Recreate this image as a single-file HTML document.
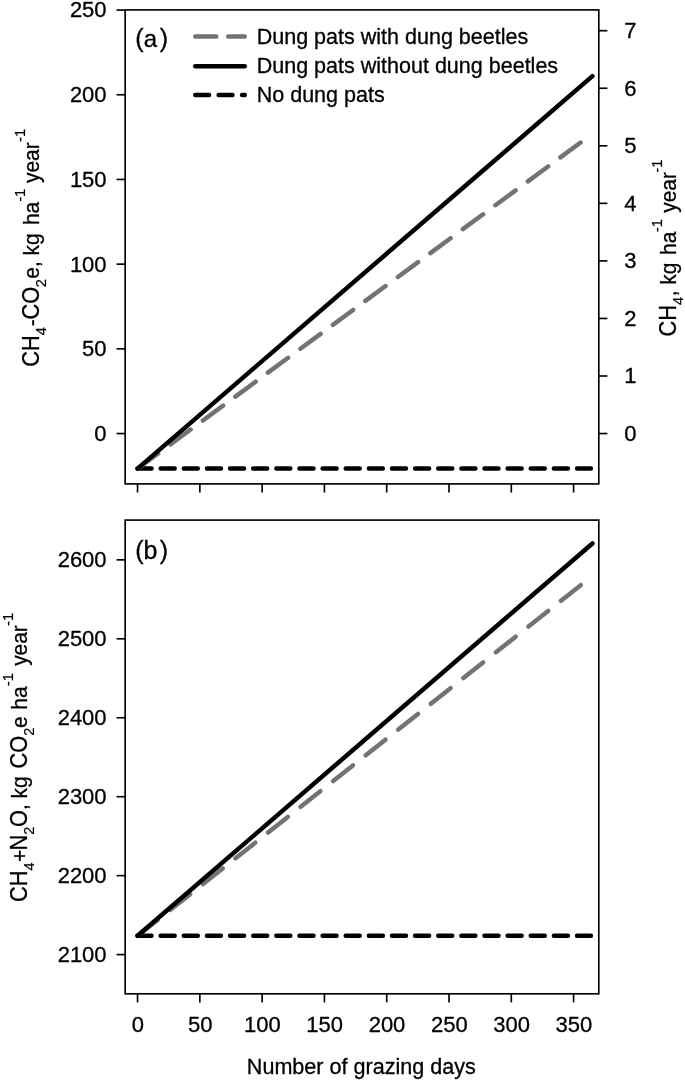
<!DOCTYPE html>
<html lang="en"><head><meta charset="utf-8"><title>Figure</title>
<style>html,body{margin:0;padding:0;background:#fff}svg{display:block}</style>
</head><body>
<svg width="685" height="1082" viewBox="0 0 685 1082" font-family='"Liberation Sans", Arial, Helvetica, sans-serif' fill="#000">
<style>text{stroke:#000;stroke-width:0.3px;stroke-linejoin:round}.s{stroke-width:0.18px}</style>
<rect width="685" height="1082" fill="#fff"/>
<g stroke="#000" stroke-width="1.65" fill="none" stroke-linecap="square">
<rect x="125.15" y="9.9" width="473.65" height="474.00"/>
<rect x="125.15" y="520.1" width="473.65" height="473.70"/>
</g>
<g stroke="#000" stroke-width="1.65" fill="none">
<line x1="116.55" y1="433.55" x2="125.15" y2="433.55" />
<line x1="116.55" y1="348.85" x2="125.15" y2="348.85" />
<line x1="116.55" y1="264.15" x2="125.15" y2="264.15" />
<line x1="116.55" y1="179.45" x2="125.15" y2="179.45" />
<line x1="116.55" y1="94.75" x2="125.15" y2="94.75" />
<line x1="116.55" y1="10.05" x2="125.15" y2="10.05" />
<line x1="598.80" y1="433.55" x2="607.40" y2="433.55" />
<line x1="598.80" y1="376.00" x2="607.40" y2="376.00" />
<line x1="598.80" y1="318.45" x2="607.40" y2="318.45" />
<line x1="598.80" y1="260.90" x2="607.40" y2="260.90" />
<line x1="598.80" y1="203.35" x2="607.40" y2="203.35" />
<line x1="598.80" y1="145.80" x2="607.40" y2="145.80" />
<line x1="598.80" y1="88.25" x2="607.40" y2="88.25" />
<line x1="598.80" y1="30.70" x2="607.40" y2="30.70" />
<line x1="116.55" y1="954.60" x2="125.15" y2="954.60" />
<line x1="116.55" y1="875.65" x2="125.15" y2="875.65" />
<line x1="116.55" y1="796.70" x2="125.15" y2="796.70" />
<line x1="116.55" y1="717.75" x2="125.15" y2="717.75" />
<line x1="116.55" y1="638.80" x2="125.15" y2="638.80" />
<line x1="116.55" y1="559.85" x2="125.15" y2="559.85" />
<line x1="137.55" y1="483.90" x2="137.55" y2="492.50" />
<line x1="137.55" y1="993.80" x2="137.55" y2="1002.40" />
<line x1="199.84" y1="483.90" x2="199.84" y2="492.50" />
<line x1="199.84" y1="993.80" x2="199.84" y2="1002.40" />
<line x1="262.13" y1="483.90" x2="262.13" y2="492.50" />
<line x1="262.13" y1="993.80" x2="262.13" y2="1002.40" />
<line x1="324.42" y1="483.90" x2="324.42" y2="492.50" />
<line x1="324.42" y1="993.80" x2="324.42" y2="1002.40" />
<line x1="386.71" y1="483.90" x2="386.71" y2="492.50" />
<line x1="386.71" y1="993.80" x2="386.71" y2="1002.40" />
<line x1="449.00" y1="483.90" x2="449.00" y2="492.50" />
<line x1="449.00" y1="993.80" x2="449.00" y2="1002.40" />
<line x1="511.29" y1="483.90" x2="511.29" y2="492.50" />
<line x1="511.29" y1="993.80" x2="511.29" y2="1002.40" />
<line x1="573.58" y1="483.90" x2="573.58" y2="492.50" />
<line x1="573.58" y1="993.80" x2="573.58" y2="1002.40" />
</g>
<g font-size="22">
<text x="106.60" y="440.90" font-size="22" text-anchor="end" >0</text>
<text x="106.60" y="356.20" font-size="22" text-anchor="end" >50</text>
<text x="106.60" y="271.50" font-size="22" text-anchor="end" >100</text>
<text x="106.60" y="186.80" font-size="22" text-anchor="end" >150</text>
<text x="106.60" y="102.10" font-size="22" text-anchor="end" >200</text>
<text x="106.60" y="17.40" font-size="22" text-anchor="end" >250</text>
<text x="630.40" y="440.90" font-size="22" text-anchor="middle" >0</text>
<text x="630.40" y="383.35" font-size="22" text-anchor="middle" >1</text>
<text x="630.40" y="325.80" font-size="22" text-anchor="middle" >2</text>
<text x="630.40" y="268.25" font-size="22" text-anchor="middle" >3</text>
<text x="630.40" y="210.70" font-size="22" text-anchor="middle" >4</text>
<text x="630.40" y="153.15" font-size="22" text-anchor="middle" >5</text>
<text x="630.40" y="95.60" font-size="22" text-anchor="middle" >6</text>
<text x="630.40" y="38.05" font-size="22" text-anchor="middle" >7</text>
<text x="106.60" y="961.95" font-size="22" text-anchor="end" >2100</text>
<text x="106.60" y="883.00" font-size="22" text-anchor="end" >2200</text>
<text x="106.60" y="804.05" font-size="22" text-anchor="end" >2300</text>
<text x="106.60" y="725.10" font-size="22" text-anchor="end" >2400</text>
<text x="106.60" y="646.15" font-size="22" text-anchor="end" >2500</text>
<text x="106.60" y="567.20" font-size="22" text-anchor="end" >2600</text>
<text x="137.85" y="1032.00" font-size="22" text-anchor="middle" >0</text>
<text x="200.14" y="1032.00" font-size="22" text-anchor="middle" >50</text>
<text x="262.43" y="1032.00" font-size="22" text-anchor="middle" >100</text>
<text x="324.72" y="1032.00" font-size="22" text-anchor="middle" >150</text>
<text x="387.01" y="1032.00" font-size="22" text-anchor="middle" >200</text>
<text x="449.30" y="1032.00" font-size="22" text-anchor="middle" >250</text>
<text x="511.59" y="1032.00" font-size="22" text-anchor="middle" >300</text>
<text x="573.88" y="1032.00" font-size="22" text-anchor="middle" >350</text>
</g>
<text transform="translate(38.80,366.80) rotate(-90) scale(0.95,1.0)" font-size="22" xml:space="preserve"><tspan font-size="22" dx="0" dy="0.00"><tspan font-size="22.99">CH</tspan></tspan><tspan class="s" font-size="14.8" dx="0" dy="7.40"><tspan font-size="15.47">4</tspan></tspan><tspan font-size="22" dx="0.8" dy="-7.40">-</tspan><tspan font-size="22" dx="0.0" dy="0.00"><tspan font-size="22.99">CO</tspan></tspan><tspan class="s" font-size="14.8" dx="-0.5" dy="7.40"><tspan font-size="15.47">2</tspan></tspan><tspan font-size="22" dx="0.3" dy="-7.40">e, kg</tspan><tspan font-size="22" dx="2.6" dy="0.00"> ha</tspan><tspan class="s" font-size="14.8" dx="0.3" dy="-14.30">-<tspan font-size="15.47">1</tspan></tspan><tspan font-size="22" dx="0.0" dy="14.30"> year</tspan><tspan class="s" font-size="14.8" dx="0.6" dy="-14.30">-<tspan font-size="15.47">1</tspan></tspan></text>
<text transform="translate(675.90,336.60) rotate(-90) scale(0.95,1.0)" font-size="22" xml:space="preserve"><tspan font-size="22" dx="0" dy="0.00"><tspan font-size="22.99">CH</tspan></tspan><tspan class="s" font-size="14.8" dx="0" dy="7.40"><tspan font-size="15.47">4</tspan></tspan><tspan font-size="22" dx="0.6" dy="-7.40">, kg</tspan><tspan font-size="22" dx="2.0" dy="0.00"> ha</tspan><tspan class="s" font-size="14.8" dx="-0.2" dy="-14.30">-<tspan font-size="15.47">1</tspan></tspan><tspan font-size="22" dx="0.6" dy="14.30"> year</tspan><tspan class="s" font-size="14.8" dx="-0.5" dy="-14.30">-<tspan font-size="15.47">1</tspan></tspan></text>
<text transform="translate(26.80,902.00) rotate(-90) scale(0.95,1.0)" font-size="22" xml:space="preserve"><tspan font-size="22" dx="0" dy="0.00"><tspan font-size="22.99">CH</tspan></tspan><tspan class="s" font-size="14.8" dx="0" dy="7.40"><tspan font-size="15.47">4</tspan></tspan><tspan font-size="22" dx="0.3" dy="-7.40">+</tspan><tspan font-size="22" dx="-0.8" dy="0.00"><tspan font-size="22.99">N</tspan></tspan><tspan class="s" font-size="14.8" dx="0" dy="7.40"><tspan font-size="15.47">2</tspan></tspan><tspan font-size="22" dx="-0.4" dy="-7.40"><tspan font-size="22.99">O</tspan>, kg</tspan><tspan font-size="22" dx="2.1" dy="0.00"> <tspan font-size="22.99">CO</tspan></tspan><tspan class="s" font-size="14.8" dx="0" dy="7.40"><tspan font-size="15.47">2</tspan></tspan><tspan font-size="22" dx="-0.4" dy="-7.40">e</tspan><tspan font-size="22" dx="1.0" dy="0.00"> ha</tspan><tspan class="s" font-size="14.8" dx="0.5" dy="-14.30">-<tspan font-size="15.47">1</tspan></tspan><tspan font-size="22" dx="1.5" dy="14.30"> year</tspan><tspan class="s" font-size="14.8" dx="-0.5" dy="-14.30">-<tspan font-size="15.47">1</tspan></tspan></text>
<text transform="translate(246.8,1074.3) scale(0.981,1.0)" font-size="22">Number of grazing days</text>
<text font-size="25" x="135.2 143.8 159.8" y="47.1">(<tspan font-size="24">a</tspan>)</text>
<text font-size="25" x="135.2 143.6 159.8" y="559.2">(b)</text>
<g fill="none" stroke-width="4.5" stroke-linecap="round">
<line x1="195.25" y1="36.50" x2="244.75" y2="36.50" stroke="#737373" stroke-dasharray="21.1 11.8"/>
<line x1="195.25" y1="66.20" x2="244.75" y2="66.20" stroke="#000"/>
<line x1="195.25" y1="94.90" x2="244.75" y2="94.90" stroke="#000" stroke-dasharray="13.8 9.6"/>
</g>
<text x="256.70" y="43.70" font-size="21.52" text-anchor="start" >Dung pats with dung beetles</text>
<text x="256.70" y="72.90" font-size="21.52" text-anchor="start" >Dung pats without dung beetles</text>
<text x="256.70" y="101.80" font-size="21.52" text-anchor="start" >No dung pats</text>
<g fill="none" stroke-width="4.5" stroke-linecap="round">
<line x1="137.55" y1="468.60" x2="590.90" y2="468.60" stroke="#000" stroke-dasharray="14.0 9.13"/>
<line x1="137.55" y1="935.80" x2="590.90" y2="935.80" stroke="#000" stroke-dasharray="14.0 9.13"/>
<line x1="137.90" y1="468.34" x2="592.40" y2="133.83" stroke="#737373" stroke-dasharray="25.1 15.25"/>
<line x1="137.90" y1="935.52" x2="592.40" y2="576.01" stroke="#737373" stroke-dasharray="25.1 16.4"/>
<line x1="137.55" y1="468.60" x2="592.40" y2="76.10" stroke="#000"/>
<line x1="137.55" y1="935.80" x2="592.40" y2="543.50" stroke="#000"/>
</g>
</svg>
</body></html>
